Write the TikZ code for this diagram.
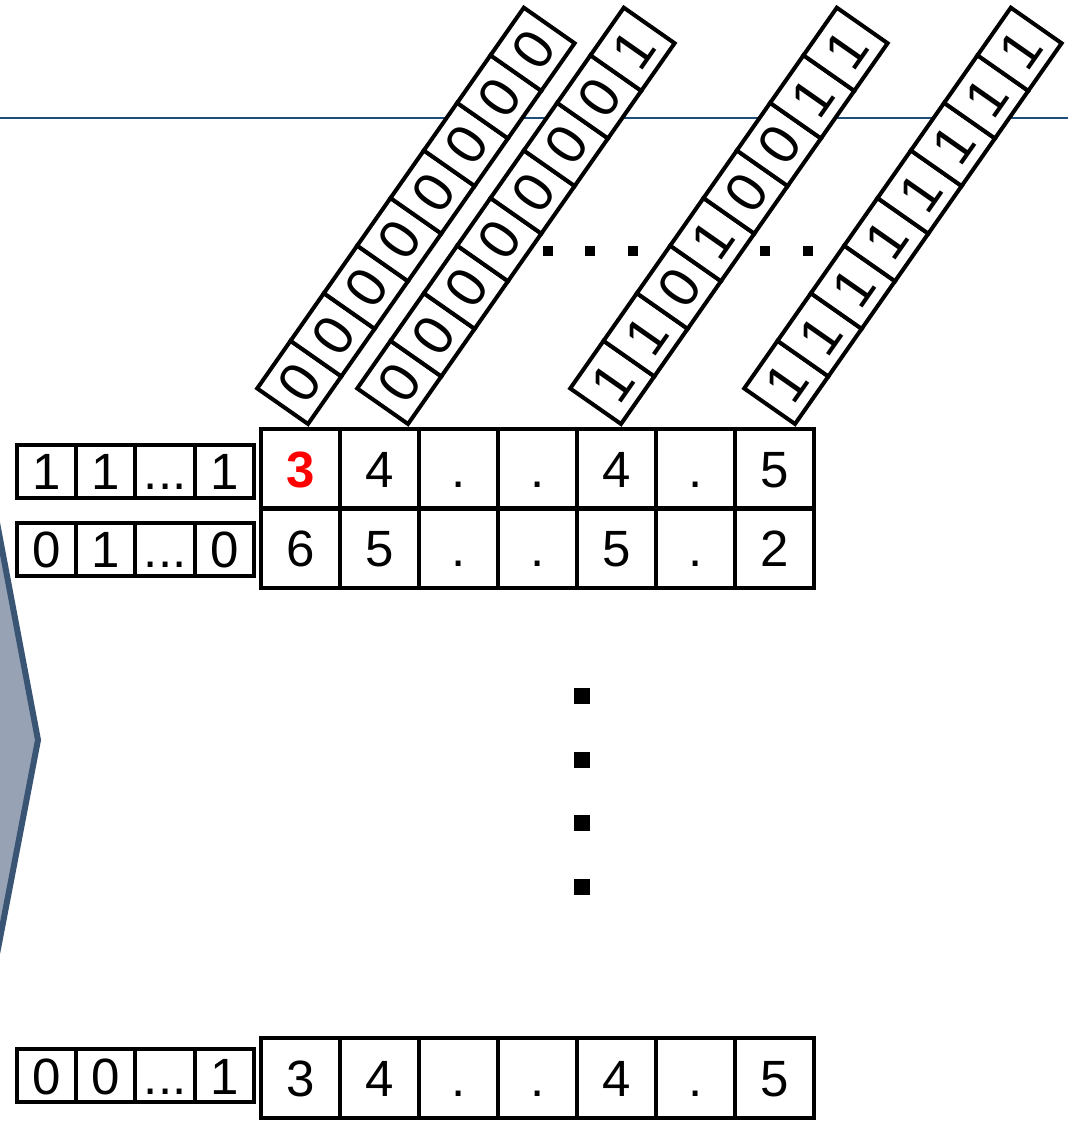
\documentclass[tikz,border=0pt]{standalone}
\usepackage{fontspec}
\setmainfont{Liberation Sans}
\definecolor{linecol}{HTML}{1F4E79}
\definecolor{arrowfill}{HTML}{97A3B5}
\definecolor{arrowdraw}{HTML}{3A5474}
\newcommand{\mydotsx}{.\kern0pt.\kern0pt.}
\begin{document}
\begin{tikzpicture}[x=1pt,y=1pt,
  cell/.style={draw, line width=4pt, minimum width=79pt, minimum height=80pt, inner sep=0pt,
    font=\fontsize{51}{60}\selectfont, text height=36.5pt, text depth=0pt},
  sbox/.style={draw, line width=4pt, minimum width=59.25pt, minimum height=53pt, inner sep=0pt,
    font=\fontsize{51}{60}\selectfont, text height=36.5pt, text depth=0pt},
  bit/.style={draw, fill=white, line width=4pt, minimum width=58.1pt, minimum height=62pt, inner sep=0pt,
    font=\fontsize{56}{64}\selectfont, text height=40pt, text depth=0pt},
  hdot/.style={fill=black, minimum size=10pt, inner sep=0pt},
  vdot/.style={fill=black, minimum size=16pt, inner sep=0pt}]
\useasboundingbox (0,0) rectangle (1068,1121);
% left arrow shape
\begin{scope}
  \clip (0,0) rectangle (1068,1121);
  \fill[arrowfill] (-12,646) -- (38,381) -- (-12,120) -- (-40,120) -- (-40,646) -- cycle;
  \draw[arrowdraw, line width=6pt, line join=miter] (-12,646) -- (38,381) -- (-12,120);
\end{scope}
% horizontal line
\draw[linecol, line width=2pt] (0,1003) -- (1068,1003);
% horizontal dots
\foreach \x [count=\i] in {548,590,633,765,808}
  \node[hdot] (hd\i) at (\x,870) {};
% vertical dots
\foreach \y [count=\i] in {425,361,298,234}
  \node[vdot] (vd\i) at (582,\y) {};
% main grid row 1
\foreach \v [count=\i from 0] in {{\color{red}\bfseries 3},4,.,.,4,.,5}
  \node[cell] (a\i) at (300.5+79*\i,652) {\v};
% main grid row 2
\foreach \v [count=\i from 0] in {6,5,.,.,5,.,2}
  \node[cell] (b\i) at (300.5+79*\i,572.5) {\v};
% bottom grid
\foreach \v [count=\i from 0] in {3,4,.,.,4,.,5}
  \node[cell] (c\i) at (300.5+79*\i,43) {\v};
% small boxes
\foreach \v [count=\i from 0] in {1,1,\mydotsx,1}
  \node[sbox] (p\i) at (46.6+59.25*\i,649.5) {\v};
\foreach \v [count=\i from 0] in {0,1,\mydotsx,0}
  \node[sbox] (q\i) at (46.6+59.25*\i,571.5) {\v};
\foreach \v [count=\i from 0] in {0,0,\mydotsx,1}
  \node[sbox] (r\i) at (46.6+59.25*\i,45) {\v};
% rotated strips
\begin{scope}[shift={(308,697)}, rotate=55, transform shape]
  \foreach \b [count=\i from 0] in {0,0,0,0,0,0,0,0}
    \node[bit] (s1c\i) at (29.05+58.1*\i,31) {\b};
\end{scope}
\begin{scope}[shift={(408,697)}, rotate=55, transform shape]
  \foreach \b [count=\i from 0] in {0,0,0,0,0,0,0,1}
    \node[bit] (s2c\i) at (29.05+58.1*\i,31) {\b};
\end{scope}
\begin{scope}[shift={(621,697)}, rotate=55, transform shape]
  \foreach \b [count=\i from 0] in {1,1,0,1,0,0,1,1}
    \node[bit] (s3c\i) at (29.05+58.1*\i,31) {\b};
\end{scope}
\begin{scope}[shift={(795,697)}, rotate=55, transform shape]
  \foreach \b [count=\i from 0] in {1,1,1,1,1,1,1,1}
    \node[bit] (s4c\i) at (29.05+58.1*\i,31) {\b};
\end{scope}
\end{tikzpicture}
\end{document}
